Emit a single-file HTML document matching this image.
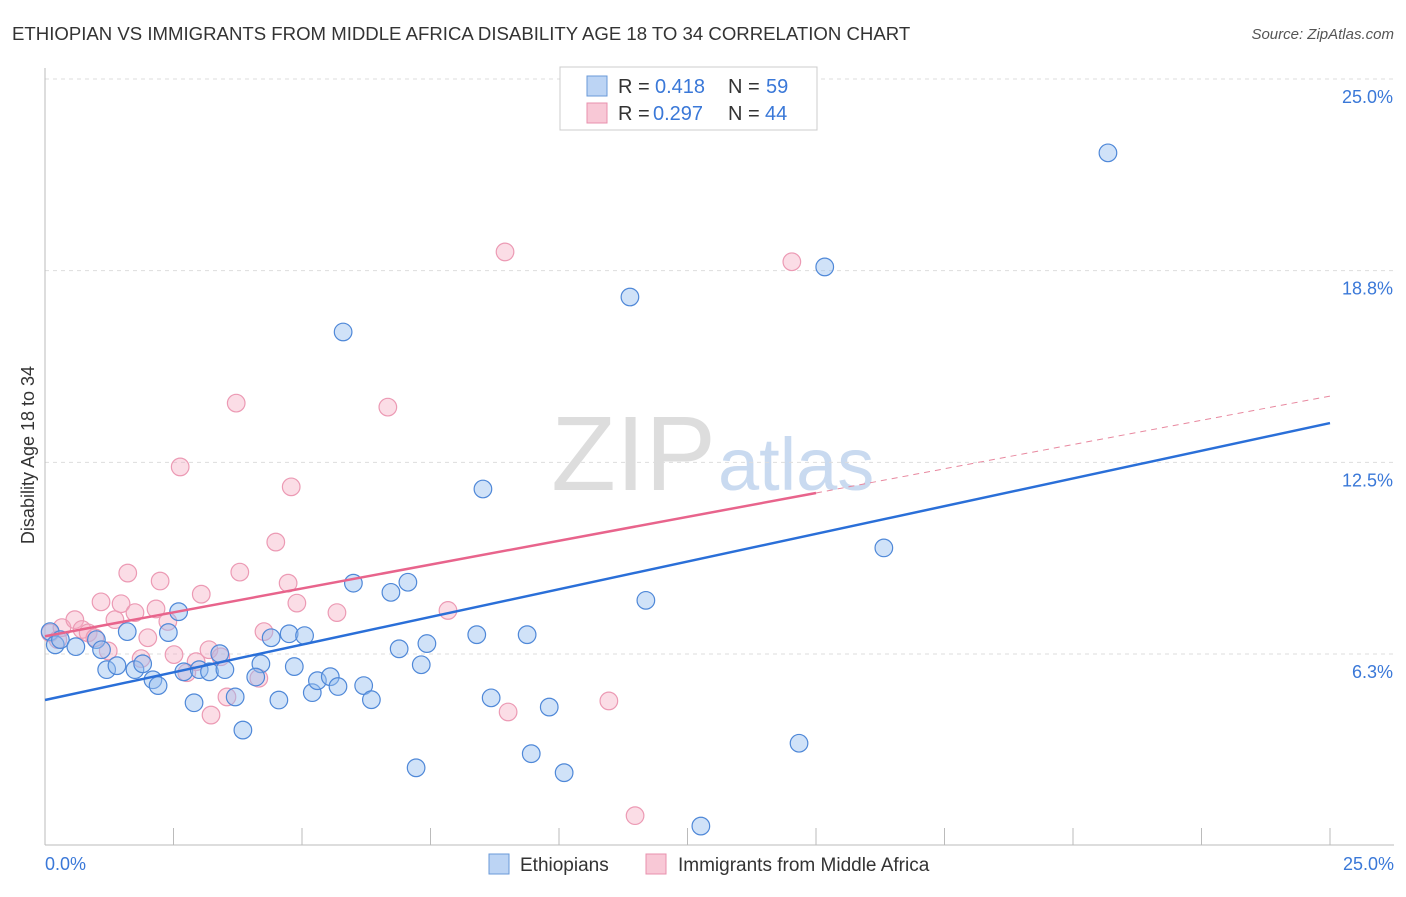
<!DOCTYPE html>
<html><head><meta charset="utf-8"><style>
body{margin:0;background:#fff;font-family:"Liberation Sans",sans-serif}
svg text{font-family:"Liberation Sans",sans-serif}
</style></head><body>
<svg id="c" width="1406" height="892">
<text x="12" y="40" font-size="18.6" fill="#333">ETHIOPIAN VS IMMIGRANTS FROM MIDDLE AFRICA DISABILITY AGE 18 TO 34 CORRELATION CHART</text>
<text x="1394" y="39" font-size="15" fill="#555" text-anchor="end" font-style="italic">Source: ZipAtlas.com</text>
<text x="716" y="490" font-size="106" fill="#ddd" text-anchor="end" font-family="Liberation Serif">ZIP</text>
<text x="718" y="490" font-size="74" fill="#c9daf0">atlas</text>
<g id="grid"></g>
<g id="axes"></g>
<g id="pts"></g>
<g id="lines"></g>
<text transform="translate(34,455) rotate(-90)" font-size="18" fill="#333" text-anchor="middle">Disability Age 18 to 34</text>
<g>
<rect x="560" y="67" width="257" height="63" fill="#fff" stroke="#ccc"/>
<rect x="587" y="76" width="20" height="20" fill="#bcd4f4" stroke="#6a9ad8"/>
<text x="618" y="93" font-size="20" fill="#333">R =</text>
<text x="655" y="93" font-size="20" fill="#3a78d8">0.418</text>
<text x="728" y="93" font-size="20" fill="#333">N =</text>
<text x="766" y="93" font-size="20" fill="#3a78d8">59</text>
<rect x="587" y="103" width="20" height="20" fill="#f8c8d6" stroke="#e890ae"/>
<text x="618" y="120" font-size="20" fill="#333">R =</text>
<text x="653" y="120" font-size="20" fill="#3a78d8">0.297</text>
<text x="728" y="120" font-size="20" fill="#333">N =</text>
<text x="765" y="120" font-size="20" fill="#3a78d8">44</text>
</g>
<g>
<rect x="489" y="854" width="20" height="20" fill="#bcd4f4" stroke="#6a9ad8"/>
<text x="520" y="871" font-size="19" fill="#333">Ethiopians</text>
<rect x="646" y="854" width="20" height="20" fill="#f8c8d6" stroke="#e890ae"/>
<text x="678" y="871" font-size="19" fill="#333">Immigrants from Middle Africa</text>
</g>
</svg>
<script>
const yTicks=[6.25,12.5,18.75,25];
const yTickLabels=["6.3%","12.5%","18.8%","25.0%"];
const xTickLabels=["0.0%","25.0%"];
const blueX=[0.1,0.2,0.3,0.6,1.0,1.1,1.2,1.4,1.6,1.75,1.9,2.1,2.2,2.4,2.6,2.7,2.9,3.0,3.2,3.4,3.5,3.7,3.85,4.2,4.1,4.4,4.55,4.75,4.85,5.05,5.2,5.3,5.55,5.7,5.8,6.0,6.2,6.35,6.73,6.89,7.06,7.22,7.32,7.43,8.4,8.52,8.68,9.38,9.46,9.81,10.1,11.38,11.69,12.76,14.67,15.17,16.32,20.68];
const blueY=[6.98,6.55,6.72,6.49,6.72,6.39,5.74,5.87,6.98,5.74,5.93,5.41,5.22,6.95,7.63,5.67,4.66,5.74,5.67,6.26,5.74,4.85,3.77,5.93,5.5,6.78,4.75,6.91,5.84,6.85,4.99,5.38,5.51,5.19,16.75,8.56,5.22,4.76,8.26,6.42,8.59,2.54,5.9,6.59,6.88,11.63,4.82,6.88,3.0,4.52,2.38,17.89,8.0,0.64,3.34,18.87,9.71,22.59];
const pinkX=[0.1,0.25,0.33,0.58,0.72,0.84,0.97,1.09,1.23,1.36,1.48,1.61,1.75,1.87,2.0,2.16,2.24,2.39,2.51,2.63,2.76,2.94,3.04,3.19,3.23,3.42,3.54,3.72,3.79,4.16,4.26,4.49,4.73,4.79,4.9,5.68,6.67,7.84,8.95,9.01,10.97,11.48,14.53];
const pinkY=[6.94,6.72,7.11,7.37,7.05,6.94,6.78,7.95,6.35,7.37,7.89,8.89,7.6,6.1,6.78,7.72,8.63,7.31,6.23,12.35,5.64,6.0,8.2,6.39,4.26,6.16,4.85,14.43,8.92,5.46,6.98,9.9,8.56,11.7,7.91,7.6,14.3,7.67,19.36,4.36,4.72,0.98,19.04];
const blueTrend=[4.75,13.78];
const pinkTrend=[6.83,11.5,14.66];
const X=v=>45+v*51.4, Y=v=>845.7-v*30.67;
const NS="http://www.w3.org/2000/svg";
function mk(p,tag,a){const e=document.createElementNS(NS,tag);for(const k in a)e.setAttribute(k,a[k]);p.appendChild(e);return e;}
const grid=document.getElementById('grid'),axes=document.getElementById('axes'),pts=document.getElementById('pts'),lines=document.getElementById('lines');
yTicks.forEach((t,i)=>{
 const l=mk(grid,'line',{x1:45,x2:1394,y1:Y(t),y2:Y(t),stroke:'#ddd','stroke-dasharray':'4,4'});
 
 
 const tx=mk(axes,'text',{x:1393,y:Y(t)+24,'font-size':18,fill:'#3a78d8','text-anchor':'end'});
 tx.textContent=yTickLabels[i];
 
 
});
const ax=mk(axes,'line',{x1:45,x2:1394,y1:845,y2:845,stroke:'#bbb'});


const ay=mk(axes,'line',{x1:45,x2:45,y1:68,y2:845,stroke:'#bbb'});


for(let i=0;i<=10;i++){const t=mk(axes,'line',{x1:X(i*2.5),x2:X(i*2.5),y1:828,y2:845,stroke:'#bbb'});
 
 }
[[0,'start',45],[1,'end',1394]].forEach(([i,a,x])=>{const t=mk(axes,'text',{x:x,y:870,'font-size':18,fill:'#3a78d8','text-anchor':a});t.textContent=xTickLabels[i];
 
 });
pinkX.forEach((x,i)=>{const c=mk(pts,'circle',{cx:X(x),cy:Y(pinkY[i]),r:8.8,fill:'rgba(244,170,192,0.4)',stroke:'#ec9ab4','stroke-width':1.2});
 
 });
blueX.forEach((x,i)=>{const c=mk(pts,'circle',{cx:X(x),cy:Y(blueY[i]),r:8.8,fill:'rgba(150,190,240,0.45)',stroke:'#4f88d8','stroke-width':1.2});
 
 });
const bl=mk(lines,'line',{x1:X(0),y1:Y(blueTrend[0]),x2:X(25),y2:Y(blueTrend[1]),stroke:'#2a6fd8','stroke-width':2.5});


const pl=mk(lines,'line',{x1:X(0),y1:Y(pinkTrend[0]),x2:X(15),y2:Y(pinkTrend[1]),stroke:'#e8648c','stroke-width':2.5});


const pd=mk(lines,'line',{x1:X(15),y1:Y(pinkTrend[1]),x2:X(25),y2:Y(pinkTrend[2]),stroke:'#e8889f','stroke-width':1,'stroke-dasharray':'6,5'});


</script>
</body></html>
